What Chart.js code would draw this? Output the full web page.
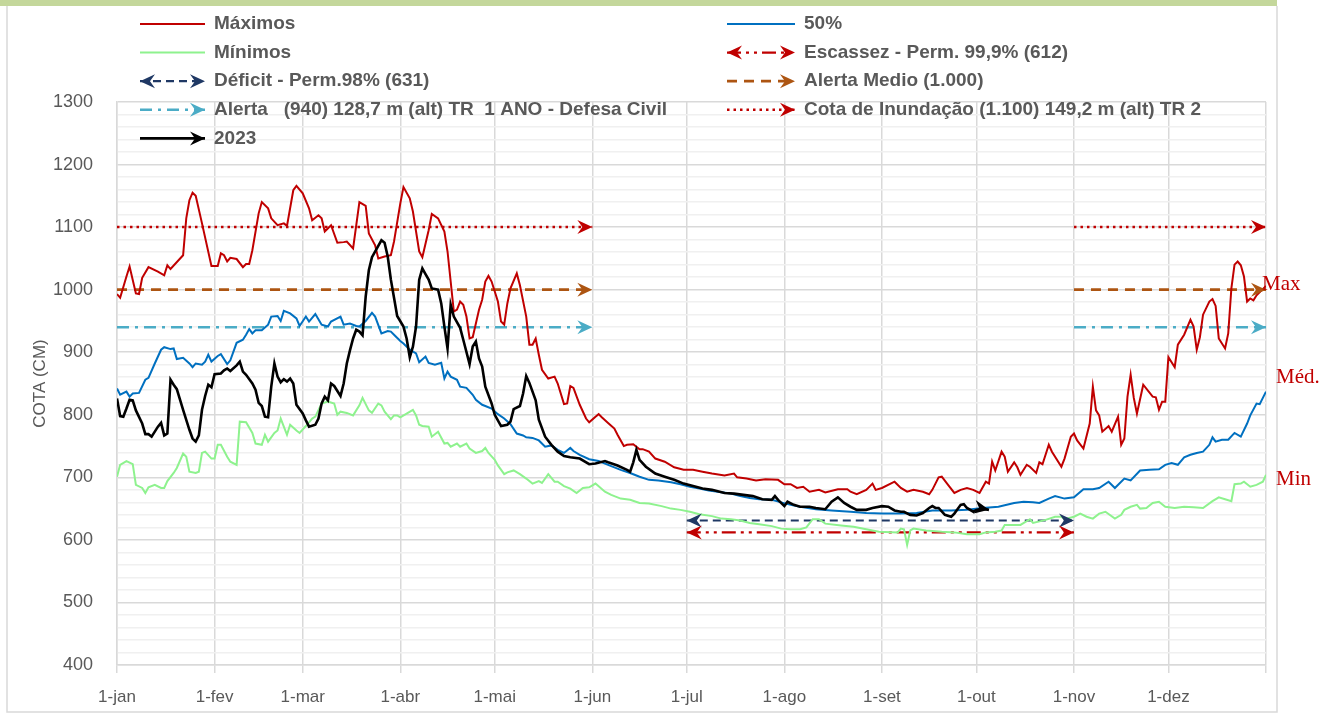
<!DOCTYPE html>
<html>
<head>
<meta charset="utf-8">
<script src="https://cdn.jsdelivr.net/npm/chart.js@4.4.1/dist/chart.umd.min.js"></script>
<style>
  html, body { margin: 0; padding: 0; background: #fff; }
  #grafico { display: block; }
</style>
</head>
<body>
<canvas id="grafico" width="1336" height="717"></canvas>
<script>
// eixo x: dia do ano (0 = 1-jan)
const diasMes = [0, 31, 59, 90, 120, 151, 181, 212, 243, 273, 304, 334];
const rotulosMes = ['1-jan', '1-fev', '1-mar', '1-abr', '1-mai', '1-jun', '1-jul', '1-ago', '1-set', '1-out', '1-nov', '1-dez'];

// [dia, cota em cm]
const maximos = [[0,993],[1,987],[3,1021],[4,1037],[6,994],[7,993],[8,1019],[10,1036],[13,1029],[15,1023],[16,1039],[17,1033],[21,1055],[22,1114],[23,1143],[24,1155],[25,1150],[27,1106],[30,1038],[32,1038],[33,1058],[34,1055],[35,1045],[36,1051],[38,1049],[40,1036],[41,1041],[42,1041],[43,1063],[45,1122],[46,1140],[48,1130],[49,1114],[51,1103],[53,1106],[54,1102],[56,1159],[57,1166],[59,1154],[61,1130],[62,1111],[64,1119],[65,1114],[66,1093],[68,1103],[70,1075],[72,1076],[73,1077],[75,1066],[77,1140],[79,1134],[80,1090],[82,1071],[83,1050],[85,1053],[87,1055],[88,1077],[90,1138],[91,1164],[93,1146],[94,1125],[96,1061],[97,1052],[99,1095],[100,1121],[102,1114],[104,1093],[105,1061],[107,965],[108,968],[109,981],[110,976],[111,957],[112,922],[113,924],[115,968],[116,984],[117,1013],[118,1022],[119,1013],[121,981],[122,949],[123,944],[124,978],[125,1002],[127,1026],[128,1007],[130,957],[131,912],[132,912],[133,922],[134,896],[135,872],[137,858],[139,861],[140,850],[142,817],[143,818],[144,846],[145,843],[147,816],[149,794],[150,788],[152,797],[153,801],[154,796],[156,787],[158,778],[159,768],[161,750],[162,752],[164,753],[166,745],[167,745],[169,741],[171,730],[174,725],[177,716],[180,712],[183,712],[186,709],[189,706],[193,703],[196,706],[197,700],[200,698],[203,695],[206,697],[210,696],[212,689],[214,689],[216,683],[218,685],[220,677],[223,680],[225,676],[229,681],[232,681],[233,677],[235,673],[238,680],[240,690],[241,680],[243,683],[247,693],[249,683],[251,677],[253,680],[256,677],[258,673],[259,680],[261,700],[262,701],[264,688],[266,675],[268,680],[270,683],[272,680],[274,675],[276,693],[277,690],[278,725],[279,711],[281,741],[282,733],[283,709],[285,724],[286,716],[287,704],[289,720],[290,717],[292,707],[293,724],[294,721],[296,752],[297,741],[300,717],[301,730],[303,765],[304,770],[305,759],[307,746],[309,786],[310,845],[311,807],[312,799],[313,773],[315,782],[316,773],[318,797],[319,752],[320,762],[321,829],[322,864],[323,827],[324,802],[326,848],[329,829],[330,828],[331,808],[332,821],[333,821],[334,892],[336,876],[337,912],[339,928],[341,952],[342,941],[343,904],[344,924],[345,960],[347,981],[348,985],[349,974],[350,922],[352,906],[353,930],[354,1002],[355,1040],[356,1045],[357,1039],[358,1021],[359,981],[360,986],[361,983],[362,991],[365,1006]];

const mediana = [[0,842],[1,832],[3,837],[4,829],[5,834],[7,835],[9,856],[10,859],[12,882],[14,904],[15,908],[17,905],[18,906],[19,889],[21,891],[23,882],[24,876],[25,882],[27,880],[28,885],[29,896],[30,885],[32,894],[33,897],[35,881],[36,887],[38,915],[40,920],[41,928],[42,937],[43,930],[44,935],[46,935],[48,944],[49,957],[51,958],[52,950],[53,966],[55,962],[57,954],[58,942],[60,957],[61,949],[63,961],[65,944],[67,941],[68,949],[71,957],[72,944],[74,946],[76,942],[77,941],[79,950],[81,963],[82,957],[84,930],[86,934],[87,933],[88,928],[90,918],[91,914],[93,904],[95,898],[96,884],[98,893],[99,883],[101,880],[103,883],[104,858],[105,869],[106,861],[108,856],[109,845],[111,843],[113,832],[114,824],[116,816],[117,814],[119,810],[121,801],[123,794],[125,785],[127,770],[129,767],[130,764],[132,763],[134,759],[136,749],[138,751],[140,744],[142,739],[144,747],[145,742],[147,736],[150,729],[153,726],[157,718],[160,712],[163,707],[166,701],[169,696],[172,695],[176,692],[179,689],[182,685],[185,682],[188,679],[192,676],[195,674],[198,670],[201,667],[204,665],[208,664],[211,660],[214,656],[217,653],[222,649],[227,647],[233,645],[238,643],[243,642],[249,642],[254,643],[259,647],[265,647],[270,648],[275,651],[280,653],[285,659],[288,661],[291,660],[293,659],[296,666],[298,670],[301,666],[304,668],[307,681],[310,681],[312,683],[315,693],[317,683],[320,698],[322,695],[325,711],[328,712],[331,713],[333,720],[335,723],[337,720],[339,732],[341,736],[343,739],[345,741],[347,752],[348,764],[349,757],[351,760],[353,760],[355,771],[357,765],[359,786],[360,799],[362,818],[363,817],[365,837]];

const minimos = [[0,701],[1,720],[3,726],[5,721],[6,688],[8,683],[9,675],[10,684],[12,688],[14,683],[15,683],[16,694],[18,707],[19,715],[21,738],[22,733],[23,709],[25,707],[26,709],[27,739],[28,741],[30,730],[31,730],[32,752],[33,752],[35,733],[36,725],[38,720],[39,789],[41,788],[43,771],[44,754],[46,752],[47,768],[48,757],[50,771],[51,775],[52,794],[54,768],[55,784],[57,775],[58,771],[60,782],[62,794],[63,797],[65,818],[67,821],[69,818],[70,800],[71,805],[73,803],[75,799],[77,815],[78,827],[80,807],[81,803],[83,818],[84,815],[85,805],[87,793],[88,799],[89,799],[90,796],[92,802],[94,808],[95,799],[96,784],[97,782],[99,781],[100,765],[102,773],[104,754],[105,755],[106,749],[108,754],[109,749],[111,754],[112,746],[114,739],[116,742],[117,747],[118,739],[120,728],[121,719],[123,705],[124,708],[126,711],[128,705],[130,698],[132,690],[134,694],[135,691],[137,705],[139,693],[140,693],[142,686],[144,682],[146,675],[148,683],[150,684],[152,690],[155,677],[157,672],[160,666],[163,664],[166,659],[169,658],[173,654],[176,650],[179,648],[182,645],[185,641],[189,638],[192,634],[195,633],[198,631],[201,627],[204,625],[208,622],[211,618],[214,617],[217,617],[219,620],[221,633],[223,633],[225,626],[230,623],[234,621],[238,617],[242,613],[248,612],[249,618],[250,617],[251,592],[252,615],[253,618],[257,615],[262,613],[266,612],[270,609],[274,609],[276,612],[279,613],[281,615],[282,624],[285,624],[287,624],[290,633],[291,627],[295,632],[298,637],[300,637],[301,633],[304,637],[306,642],[308,637],[310,634],[312,642],[314,645],[317,634],[319,640],[320,648],[322,653],[324,656],[325,650],[327,651],[329,659],[331,661],[333,653],[336,651],[339,653],[342,652],[345,651],[348,662],[350,668],[352,665],[354,662],[355,689],[357,690],[358,693],[360,685],[362,688],[364,693],[365,704]];

const ano2023 = [[0,826],[1,798],[2,797],[3,810],[4,824],[5,823],[6,807],[8,786],[9,769],[10,769],[11,765],[13,781],[14,787],[15,767],[16,770],[17,856],[18,848],[19,841],[21,808],[23,776],[24,762],[25,757],[26,767],[27,808],[28,830],[29,848],[30,844],[31,865],[33,866],[34,871],[35,874],[36,870],[38,879],[39,885],[40,869],[41,864],[43,850],[44,840],[45,819],[46,814],[47,797],[48,796],[49,845],[50,882],[51,861],[52,852],[53,857],[54,853],[55,858],[56,850],[57,816],[59,802],[60,791],[61,781],[63,784],[64,794],[65,818],[66,829],[67,823],[68,850],[69,846],[71,830],[72,850],[73,882],[74,903],[75,922],[76,936],[77,933],[78,927],[79,989],[80,1031],[81,1052],[83,1070],[84,1079],[85,1075],[86,1053],[87,1016],[88,987],[89,958],[91,941],[92,922],[93,892],[94,909],[95,941],[96,1016],[97,1034],[98,1025],[99,1016],[100,1002],[102,1000],[103,978],[104,941],[105,906],[106,976],[107,957],[109,939],[110,920],[112,881],[113,909],[114,917],[115,890],[116,877],[117,845],[119,818],[120,800],[122,782],[124,784],[125,789],[126,809],[128,814],[129,834],[130,862],[131,851],[133,823],[134,792],[136,765],[138,752],[140,741],[142,734],[144,732],[147,730],[150,721],[152,722],[155,726],[156,724],[159,719],[162,712],[163,709],[164,724],[165,744],[166,728],[168,717],[171,706],[174,701],[177,696],[180,690],[183,686],[186,682],[189,680],[193,675],[196,674],[199,672],[202,670],[205,665],[208,664],[209,670],[210,664],[212,654],[213,661],[215,656],[217,653],[220,653],[222,651],[225,649],[227,661],[229,668],[231,659],[233,653],[235,648],[238,648],[240,651],[243,654],[245,653],[247,647],[249,645],[250,645],[252,640],[254,639],[256,643],[258,651],[259,654],[260,651],[261,651],[263,640],[265,637],[266,642],[268,656],[269,657],[270,651],[272,645],[273,648],[275,650],[277,648]];

// cotas de referencia e periodos em que aparecem
const cotaInundacao = 1100;
const alertaMedio = 1000;
const alertaDefesa = 940;
const deficit = 631;
const escassez = 612;
const periodoCheia = [[0, 151], [304, 365]];
const periodoSeca = [[181, 304]];

const ordemLegenda = ['Máximos', '50%', 'Mínimos', 'Escassez - Perm. 99,9% (612)', 'Déficit - Perm.98% (631)',
  'Alerta Medio (1.000)', 'Alerta   (940) 128,7 m (alt) TR  1 ANO - Defesa Civil',
  'Cota de Inundação (1.100) 149,2 m (alt) TR 2', '2023'];

const rotulosDireita = ['Max', 'Méd.', 'Min'];
const cotaRotulos = [1008, 860, 696];

const fonte = "'Liberation Sans', Arial, sans-serif";
const cinza = '#595959';

function pontos(pares) {
  return pares.map(function (p) { return { x: p[0], y: p[1] }; });
}

function faixa(periodos, valor) {
  var d = [];
  periodos.forEach(function (p, i) {
    if (i > 0) d.push({ x: (periodos[i - 1][1] + p[0]) / 2, y: null });
    d.push({ x: p[0], y: valor }, { x: p[1], y: valor });
  });
  return d;
}

function seta(ctx, x, y, ang, cor) {
  ctx.save();
  ctx.translate(x, y);
  ctx.rotate(ang);
  ctx.fillStyle = cor;
  ctx.setLineDash([]);
  ctx.beginPath();
  ctx.moveTo(0, 0);
  ctx.lineTo(-15, -7);
  ctx.lineTo(-10, 0);
  ctx.lineTo(-15, 7);
  ctx.closePath();
  ctx.fill();
  ctx.restore();
}

// setas nas pontas das linhas
const pluginSetas = {
  id: 'setas',
  afterDatasetsDraw(chart) {
    var ctx = chart.ctx;
    chart.data.datasets.forEach(function (ds, i) {
      if (!ds.setas) return;
      var pts = chart.getDatasetMeta(i).data;
      var dados = ds.data;
      for (var k = 0; k < dados.length; k++) {
        if (dados[k].y === null) continue;
        var fim = (k === dados.length - 1 || dados[k + 1].y === null);
        var inicio = (k === 0 || dados[k - 1].y === null);
        if (fim && k > 0) {
          var a = Math.atan2(pts[k].y - pts[k - 1].y, pts[k].x - pts[k - 1].x);
          seta(ctx, pts[k].x, pts[k].y, a, ds.borderColor);
        }
        if (inicio && ds.setas === 'ambos') {
          var b = Math.atan2(pts[k].y - pts[k + 1].y, pts[k].x - pts[k + 1].x);
          seta(ctx, pts[k].x, pts[k].y, b, ds.borderColor);
        }
      }
    });
  }
};

const pluginMoldura = {
  id: 'moldura',
  beforeDraw(chart) {
    var ctx = chart.ctx;
    ctx.save();
    ctx.fillStyle = '#fff';
    ctx.fillRect(0, 0, chart.width, chart.height);
    ctx.fillStyle = '#c4d79b';
    ctx.fillRect(0, 0, 1277, 6);
    ctx.strokeStyle = '#d9d9d9';
    ctx.lineWidth = 1.5;
    ctx.beginPath();
    ctx.moveTo(7, 6); ctx.lineTo(7, 712); ctx.lineTo(1277, 712); ctx.lineTo(1277, 6);
    ctx.stroke();
    ctx.restore();
  }
};

const pluginLegenda = {
  id: 'legendaExcel',
  afterDraw(chart) {
    var ctx = chart.ctx;
    ordemLegenda.forEach(function (rotulo, i) {
      var ds = chart.data.datasets.find(function (d) { return d.label === rotulo; });
      var col = i % 2, lin = Math.floor(i / 2);
      var x1 = col ? 727 : 140, x2 = col ? 795 : 205;
      var y = 24 + lin * 28.6;
      ctx.save();
      ctx.strokeStyle = ds.borderColor;
      ctx.lineWidth = ds.borderWidth;
      ctx.setLineDash(ds.borderDash || []);
      ctx.beginPath();
      ctx.moveTo(x1, y);
      ctx.lineTo(x2, y);
      ctx.stroke();
      if (ds.setas) seta(ctx, x2, y, 0, ds.borderColor);
      if (ds.setas === 'ambos') seta(ctx, x1, y, Math.PI, ds.borderColor);
      ctx.fillStyle = cinza;
      ctx.font = 'bold 19px ' + fonte;
      ctx.textBaseline = 'middle';
      ctx.fillText(rotulo, x2 + 9, y);
      ctx.restore();
    });

    // Max / Méd. / Min na direita
    var sy = chart.scales.y, area = chart.chartArea;
    ctx.save();
    ctx.fillStyle = '#c00000';
    ctx.font = "21px 'Liberation Serif', 'Times New Roman', serif";
    ctx.textBaseline = 'middle';
    rotulosDireita.forEach(function (t, i) {
      ctx.fillText(t, area.right + (i === 0 ? -4 : 10), sy.getPixelForValue(cotaRotulos[i]));
    });
    ctx.restore();
  }
};

Chart.defaults.font.family = fonte;
Chart.defaults.color = cinza;

new Chart(document.getElementById('grafico'), {
  type: 'line',
  data: {
    datasets: [
      { label: '2023', data: pontos(ano2023), borderColor: '#000000', borderWidth: 2.6, setas: 'fim' },
      { label: 'Máximos', data: pontos(maximos), borderColor: '#c00000', borderWidth: 2 },
      { label: '50%', data: pontos(mediana), borderColor: '#0070c0', borderWidth: 2 },
      { label: 'Mínimos', data: pontos(minimos), borderColor: '#8ef28e', borderWidth: 2 },
      { label: 'Cota de Inundação (1.100) 149,2 m (alt) TR 2', data: faixa(periodoCheia, cotaInundacao),
        borderColor: '#c00000', borderWidth: 2.5, borderDash: [2.5, 4], setas: 'fim' },
      { label: 'Alerta Medio (1.000)', data: faixa(periodoCheia, alertaMedio),
        borderColor: '#ad5512', borderWidth: 2.8, borderDash: [10, 7], setas: 'fim' },
      { label: 'Alerta   (940) 128,7 m (alt) TR  1 ANO - Defesa Civil', data: faixa(periodoCheia, alertaDefesa),
        borderColor: '#4bacc6', borderWidth: 2.5, borderDash: [12, 6, 3, 6], setas: 'fim' },
      { label: 'Déficit - Perm.98% (631)', data: faixa(periodoSeca, deficit),
        borderColor: '#1f3864', borderWidth: 2.2, borderDash: [8, 5], setas: 'ambos' },
      { label: 'Escassez - Perm. 99,9% (612)', data: faixa(periodoSeca, escassez),
        borderColor: '#c00000', borderWidth: 2.2, borderDash: [14, 5, 3, 5, 3, 5], setas: 'ambos' }
    ]
  },
  options: {
    responsive: false,
    animation: false,
    spanGaps: false,
    layout: { padding: { top: 102, right: 70, left: 0, bottom: 0 } },
    elements: { point: { radius: 0 }, line: { tension: 0 } },
    plugins: { legend: { display: false }, tooltip: { enabled: false } },
    scales: {
      x: {
        type: 'linear',
        min: 0,
        max: 365,
        afterBuildTicks: function (scale) {
          scale.ticks = diasMes.concat([365]).map(function (v) { return { value: v }; });
        },
        afterFit: function (scale) { scale.height = 52; },
        ticks: {
          autoSkip: false,
          maxRotation: 0,
          padding: 14,
          font: { size: 17 },
          color: cinza,
          callback: function (v, i) { return rotulosMes[i] || ''; }
        },
        grid: { color: '#d9d9d9', lineWidth: 1.5, tickLength: 8 },
        border: { color: '#d9d9d9', width: 1.5 }
      },
      y: {
        min: 400,
        max: 1300,
        afterFit: function (scale) { scale.width = 117; },
        ticks: {
          stepSize: 20,
          autoSkip: false,
          padding: 24,
          font: { size: 18 },
          color: cinza,
          callback: function (v) { return v % 100 === 0 ? v : ''; }
        },
        grid: {
          drawTicks: false,
          lineWidth: 1.5,
          color: function (c) { return c.tick && c.tick.value % 100 === 0 ? '#d9d9d9' : '#f0f0f0'; }
        },
        border: { color: '#d9d9d9', width: 1.5 },
        title: { display: true, text: 'COTA (CM)', color: cinza, font: { size: 17 }, padding: { top: 30, bottom: 0 } }
      }
    }
  },
  plugins: [pluginMoldura, pluginSetas, pluginLegenda]
});
</script>
</body>
</html>
